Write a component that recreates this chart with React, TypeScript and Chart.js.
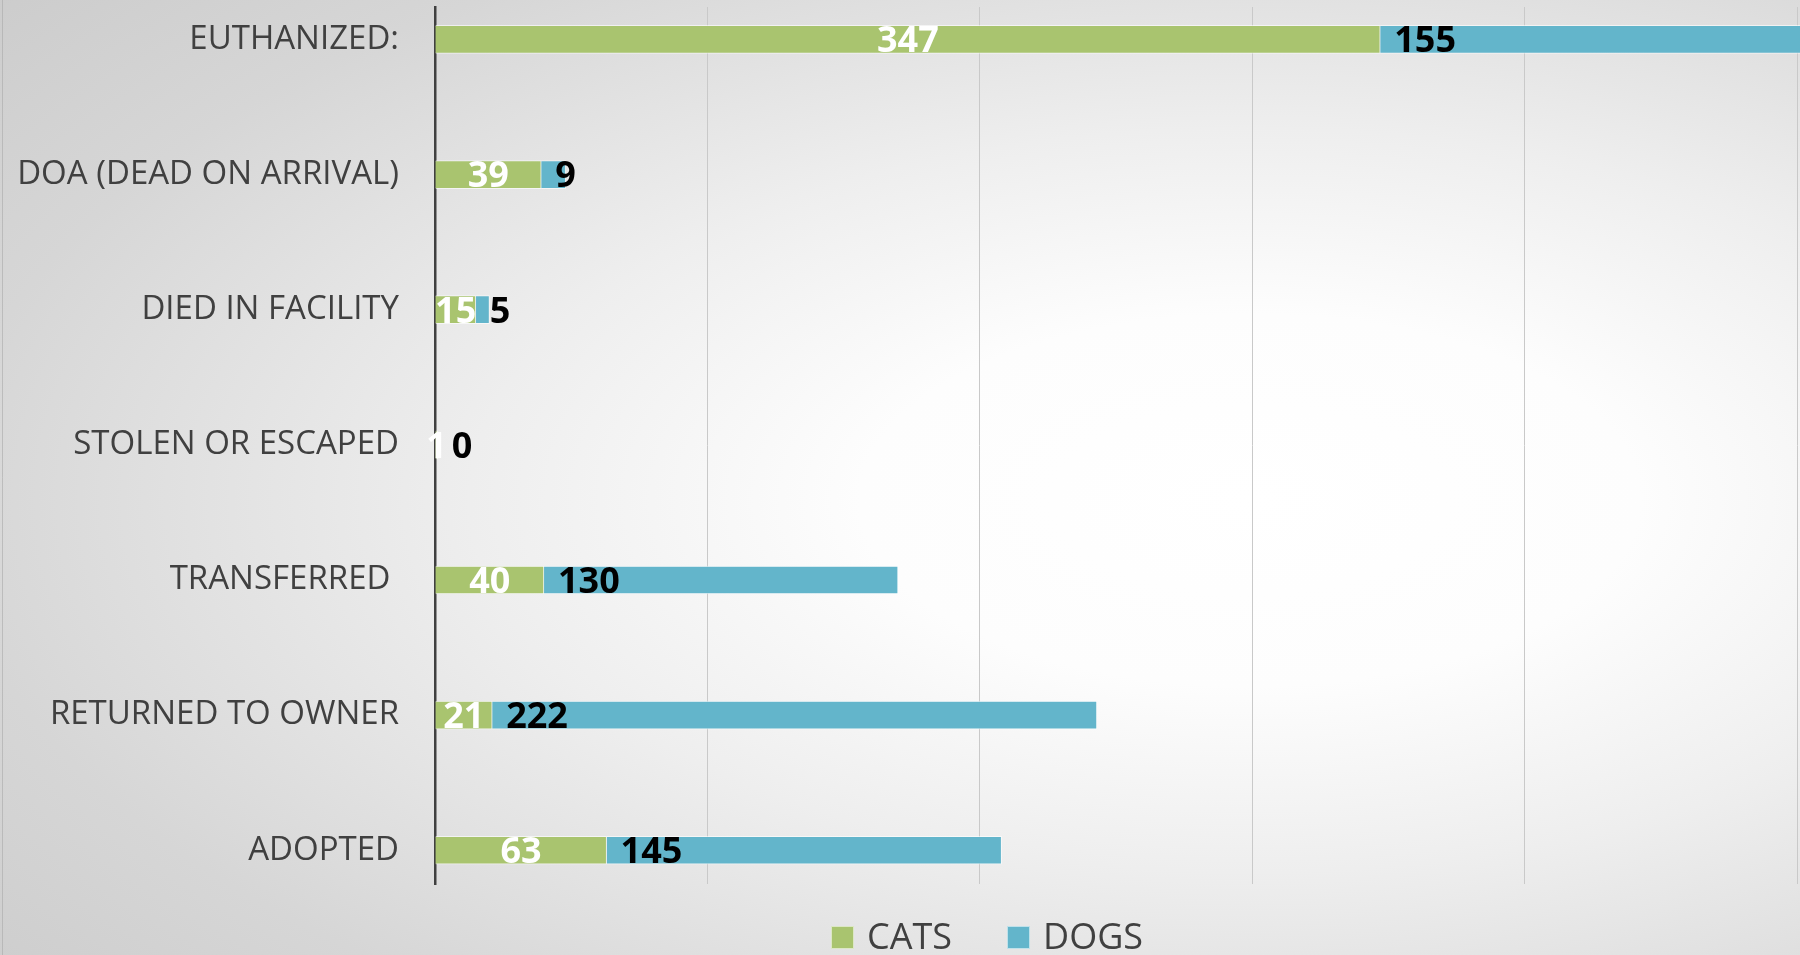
import React, { useEffect, useRef } from "react";
import { Chart, registerables } from "chart.js";

Chart.register(...registerables);

const categories = [
  "EUTHANIZED:",
  "DOA (DEAD ON ARRIVAL)",
  "DIED IN FACILITY",
  "STOLEN OR ESCAPED",
  "TRANSFERRED ",
  "RETURNED TO OWNER",
  "ADOPTED",
];
const seriesNames = ["CATS", "DOGS"];
const cats = [347, 39, 15, 1, 40, 21, 63];
const dogs = [155, 9, 5, 0, 130, 222, 145];
const xTicks = [0, 100, 200, 300, 400, 500];

const CAT_COLOR = "#a9c46f";
const DOG_COLOR = "#63b5cb";
const TEXT_COLOR = "#404040";
const FONT = "'Open Sans', 'Noto Sans', sans-serif";

const labelsPlugin = {
  id: "valueLabels",
  afterDatasetsDraw(chart: any) {
    const ctx = chart.ctx;
    ctx.save();
    const size = 36;
    ctx.font = `bold ${size}px ${FONT}`;
    ctx.textBaseline = "alphabetic";
    chart.data.datasets.forEach((ds: any, di: number) => {
      const meta = chart.getDatasetMeta(di);
      meta.data.forEach((el: any, i: number) => {
        const v = ds.data[i].x;
        const y = el.y + (size * 0.714) / 2;
        if (di === 0) {
          ctx.fillStyle = "#ffffff";
          ctx.textAlign = "center";
          ctx.fillText(String(v), (el.base + el.x) / 2, y);
        } else {
          ctx.fillStyle = "#000000";
          ctx.textAlign = "left";
          ctx.fillText(String(v), el.base + 14, y);
        }
      });
    });
    ctx.restore();
  },
};

const legendPlugin = {
  id: "customLegend",
  afterDraw(chart: any) {
    const ctx = chart.ctx;
    ctx.save();
    const size = 36;
    ctx.font = `${size}px ${FONT}`;
    ctx.textBaseline = "alphabetic";
    ctx.textAlign = "left";
    let x = 831;
    const box = 23;
    const top = 926;
    chart.data.datasets.forEach((ds: any) => {
      ctx.fillStyle = ds.backgroundColor;
      ctx.fillRect(x, top, box, box);
      ctx.strokeStyle = "rgba(255,255,255,0.6)";
      ctx.lineWidth = 1;
      ctx.strokeRect(x + 0.5, top + 0.5, box - 1, box - 1);
      ctx.fillStyle = TEXT_COLOR;
      ctx.fillText(ds.label, x + box + 13, top + box);
      x += box + 13 + ctx.measureText(ds.label).width + 55;
    });
    ctx.strokeStyle = "rgba(170,170,170,0.6)";
    ctx.lineWidth = 1;
    ctx.beginPath();
    ctx.moveTo(2.5, 0);
    ctx.lineTo(2.5, chart.height);
    ctx.stroke();
    ctx.restore();
  },
};

export default function App() {
  const ref = useRef<HTMLCanvasElement | null>(null);
  useEffect(() => {
    if (!ref.current) return;
    const chart = new Chart(ref.current, {
      type: "bar",
      data: {
        datasets: [
          {
            label: seriesNames[0],
            data: cats.map((v, i) => ({ x: v, y: i })),
            backgroundColor: CAT_COLOR,
            borderColor: "rgba(255,255,255,0.6)",
            borderWidth: 1,
            barThickness: 28,
            clip: false,
          },
          {
            label: seriesNames[1],
            data: dogs.map((v, i) => ({ x: v, y: i })),
            backgroundColor: DOG_COLOR,
            borderColor: "rgba(255,255,255,0.6)",
            borderWidth: 1,
            barThickness: 28,
            clip: false,
          },
        ],
      },
      options: {
        indexAxis: "y",
        responsive: false,
        animation: false,
        layout: { padding: { top: 7, right: 3, bottom: 71, left: 0 } },
        plugins: {
          legend: { display: false },
          tooltip: { enabled: false },
        },
        scales: {
          x: {
            type: "linear",
            stacked: true,
            min: xTicks[0],
            max: xTicks[xTicks.length - 1],
            afterBuildTicks: (s: any) => {
              s.ticks = xTicks.map((v) => ({ value: v }));
            },
            afterFit: (s: any) => {
              s.height = 0;
              s.paddingLeft = 0;
              s.paddingRight = 0;
              s.paddingTop = 0;
              s.paddingBottom = 0;
            },
            ticks: { display: false },
            grid: { color: "#c9c9c9", lineWidth: 1, drawTicks: false },
            border: { display: false },
          },
          y: {
            type: "linear",
            stacked: true,
            reverse: true,
            offset: false,
            min: -0.24,
            max: 6.25,
            afterBuildTicks: (s: any) => {
              s.ticks = categories.map((_, i) => ({ value: i }));
            },
            afterFit: (s: any) => {
              s.width = 435;
              s.paddingTop = 0;
              s.paddingBottom = 0;
              s.paddingLeft = 0;
              s.paddingRight = 0;
            },
            ticks: {
              callback: (v: any) => categories[v as number] ?? "",
              color: TEXT_COLOR,
              font: { family: FONT, size: 33 },
              padding: 36,
              autoSkip: false,
            },
            grid: { display: false, drawTicks: false, offset: false },
            border: { display: true, color: "#404040", width: 2.5 },
          },
        },
      } as any,
      plugins: [labelsPlugin, legendPlugin],
    });
    return () => chart.destroy();
  }, []);

  return (
    <div
      style={{
        position: "fixed",
        left: 0,
        top: 0,
        width: 1800,
        height: 955,
        overflow: "hidden",
        background:
          "radial-gradient(ellipse 1300px 620px at 1250px 500px, #ffffff 0%, #fdfdfd 30%, #eeeeee 60%, #d6d6d6 100%, #c9c9c9 135%)",
      }}
    >
      <canvas ref={ref} width={1800} height={955} style={{ display: "block" }} />
    </div>
  );
}
